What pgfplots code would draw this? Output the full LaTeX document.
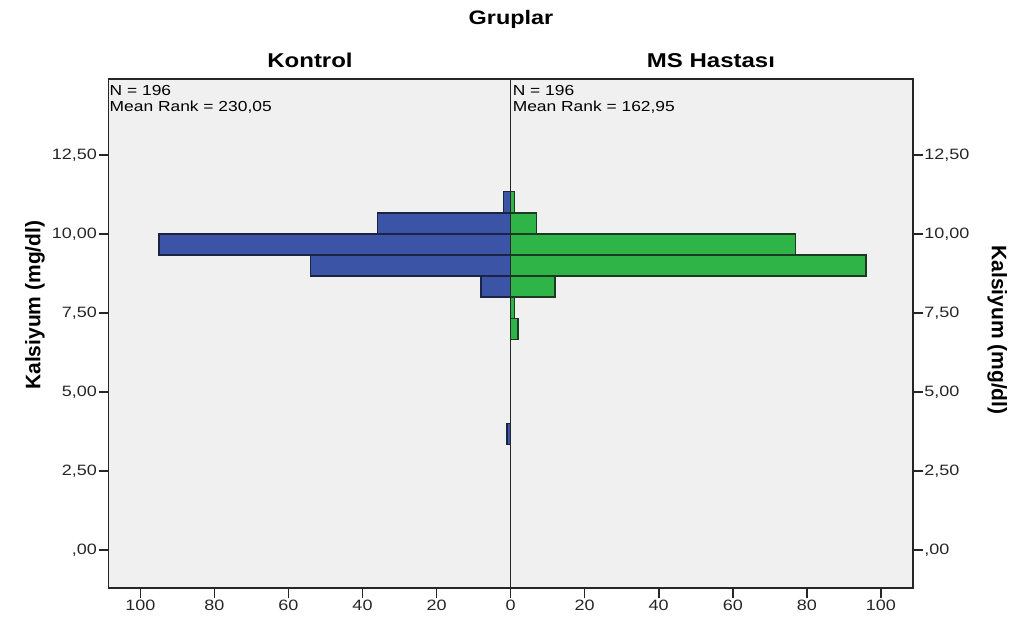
\documentclass[border=0pt]{standalone}
\usepackage{fontspec}
\setmainfont{Liberation Sans}[FakeStretch=1.2]
\newfontfamily\lblfont{Liberation Sans}
\usepackage{pgfplots}
\pgfplotsset{compat=1.18}
\definecolor{bg}{HTML}{F0F0F0}
\definecolor{cblue}{HTML}{3C54A6}
\definecolor{cgreen}{HTML}{2EB447}
\definecolor{bedge}{HTML}{1C2444}
\definecolor{gedge}{HTML}{1C3A22}
\begin{document}
\begin{tikzpicture}[x=1bp,y=1bp]
\useasboundingbox (0,0) rectangle (1032,623);
\begin{axis}[at={(108.5bp,34.7bp)}, anchor=south west, scale only axis,
  width=804.2bp, height=509.3bp,
  xmin=-108.6, xmax=108.6, ymin=-1.21, ymax=14.9,
  axis background/.style={fill=bg},
  axis line style={line width=1.6bp, black!85},
  xtick={-100,-80,-60,-40,-20,0,20,40,60,80,100},
  xticklabels={100,80,60,40,20,0,20,40,60,80,100},
  ytick={0,2.5,5,7.5,10,12.5},
  yticklabels={{,00},{2,50},{5,00},{7,50},{10,00},{12,50}},
  ytick pos=left, xtick pos=bottom, tick align=outside,
  major tick length=10bp,
  tick style={line width=1.6bp, black!85},
  tick label style={font=\fontsize{15bp}{17bp}\selectfont, text=black!85},
  xticklabel style={inner sep=2bp},
  yticklabel style={inner sep=1.5bp},
  ylabel={Kalsiyum (mg/dl)},
  ylabel style={font=\lblfont\bfseries\fontsize{21bp}{25bp}\selectfont,
    at={(axis description cs:-0.0914,0.556)}, anchor=center},
]
\addplot[xbar, bar shift=0pt, bar width=0.6667, fill=cblue, draw=bedge, line width=1.4bp]
  coordinates {(-2,11) (-36,10.3333) (-95,9.6667) (-54,9) (-8,8.3333) (-1,3.6667)};
\addplot[xbar, bar shift=0pt, bar width=0.6667, fill=cgreen, draw=gedge, line width=1.4bp]
  coordinates {(1,11) (7,10.3333) (77,9.6667) (96,9) (12,8.3333) (1,7.6667) (2,7)};
\draw[black!85, line width=1.6bp] (axis cs:0,-1.21) -- (axis cs:0,14.9);
\node[anchor=north west, align=left, inner sep=1bp, yshift=-5bp,
  font=\fontsize{14.5bp}{16bp}\selectfont] at (rel axis cs:0,1)
  {N = 196\\Mean Rank = 230,05};
\node[anchor=north west, align=left, inner sep=1bp, yshift=-5bp, xshift=1bp,
  font=\fontsize{14.5bp}{16bp}\selectfont] at (axis cs:0,14.9)
  {N = 196\\Mean Rank = 162,95};
\end{axis}
\begin{axis}[at={(108.5bp,34.7bp)}, anchor=south west, scale only axis,
  width=804.2bp, height=509.3bp,
  xmin=-108.6, xmax=108.6, ymin=-1.21, ymax=14.9,
  axis x line=none, axis y line*=right,
  axis line style={line width=1.6bp, black!85},
  ytick={0,2.5,5,7.5,10,12.5},
  yticklabels={{,00},{2,50},{5,00},{7,50},{10,00},{12,50}},
  tick align=outside, major tick length=10bp,
  tick style={line width=1.6bp, black!85},
  tick label style={font=\fontsize{15bp}{17bp}\selectfont, text=black!85},
  yticklabel style={inner sep=1.5bp},
  ylabel={Kalsiyum (mg/dl)},
  ylabel style={font=\lblfont\bfseries\fontsize{21bp}{25bp}\selectfont,
    at={(axis description cs:1.105,0.507)}, anchor=center, rotate=180},
]
\end{axis}
\node[font=\bfseries\fontsize{19.5bp}{23bp}\selectfont, anchor=base] at (511,598) {Gruplar};
\node[font=\bfseries\fontsize{20bp}{24bp}\selectfont, anchor=base] at (310,555) {Kontrol};
\node[font=\bfseries\fontsize{20bp}{24bp}\selectfont, anchor=base] at (711,555) {MS Hastası};
\end{tikzpicture}
\end{document}
